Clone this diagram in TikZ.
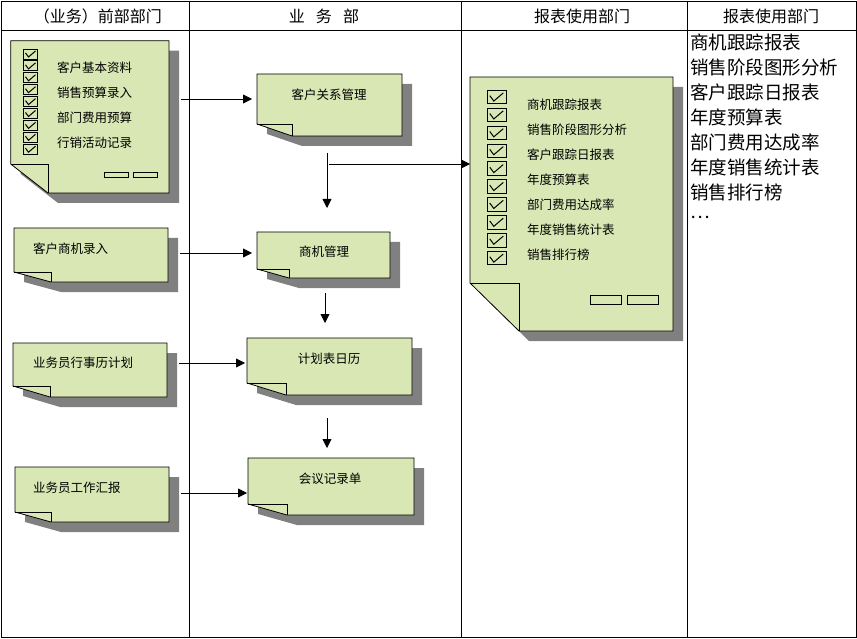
\documentclass[tikz,border=0pt]{standalone}
\usepackage{fontspec}
\newfontfamily\cjk{Noto Sans CJK SC}
\usetikzlibrary{arrows.meta,calc}
\definecolor{ink}{HTML}{000000}
\definecolor{paper}{HTML}{D8E7B4}
\definecolor{drop}{HTML}{808080}
\tikzset{
  grid/.style={draw=ink, line width=0.8pt},
  sheet/.style={draw=ink, fill=paper, line width=0.8pt},
  shade/.style={fill=drop},
  box/.style={inner sep=0pt, outer sep=0pt, draw=none},
  hd/.style={font=\cjk\fontsize{16}{18}\selectfont, inner sep=0pt, text=ink},
  lbl/.style={font=\cjk\fontsize{12.5}{14}\selectfont, inner sep=0pt, text=ink},
  lst/.style={font=\cjk\fontsize{18.5}{20}\selectfont, inner sep=0pt, text=ink, anchor=west},
  slot/.style={draw=ink, line width=0.8pt},
  ch/.style={-{Triangle[length=9pt, width=9pt]}, line width=0.8pt, draw=ink},
  tick/.pic={
    \filldraw[draw=ink, fill=paper, line width=0.8pt] (-7,-5) rectangle (7,5);
    \draw[ink, line width=1pt] (-5,-1) -- (-2,3) -- (5,-3);
  },
}
% #1 name, (#2,#3) top left, (#4,#5) bottom right, #6 fold width, #7 fold height
\newcommand{\paper}[7]{%
  \fill[shade] (#2+10,#3+10) -- (#4+10,#3+10) -- (#4+10,#5+10) -- (#2+#6+10,#5+10) -- (#2+10,#5-#7+10) -- cycle;
  \filldraw[sheet] (#2,#3) -- (#4,#3) -- (#4,#5) -- (#2+#6,#5) -- (#2,#5-#7) -- cycle;
  \draw[sheet, fill=none] (#2,#5-#7) -- (#2+#6,#5-#7) -- (#2+#6,#5);
  \node[box, minimum width={(#4-#2)*1pt}, minimum height={(#5-#3)*1pt}] (#1) at ({(#2+#4)/2},{(#3+#5)/2}) {};
}

\begin{document}
\begin{tikzpicture}[x=1pt, y=-1pt]
  \useasboundingbox (0,0) rectangle (857,639);
  % lanes
  \draw[grid] (1,1) rectangle (856,637);
  \draw[grid] (1,30) -- (856,30);
  \foreach \lx in {189.5,461,687}
    \draw[grid] (\lx,1) -- (\lx,637);
  \node[hd] (h1) at (98,16) {（业务）前部部门};
  \node[hd] (h2) at (324,16) {业\hspace{0.7em}务\hspace{0.7em}部};
  \node[hd] (h3) at (582,16) {报表使用部门};
  \node[hd] (h4) at (771,16) {报表使用部门};

  % front office sheets
  \paper{front}{10.7}{40.7}{169}{193}{37.3}{29}
  \foreach \k in {0,...,8}
    \pic at (30.5,{54+11.9*\k}) {tick};
  \foreach \t [count=\i from 0] in {客户基本资料,销售预算录入,部门费用预算,行销活动记录}
    \node[lbl, anchor=west] (front\i) at (57,{68+25*\i}) {\t};
  \draw[slot] (104,172) rectangle (128,177);
  \draw[slot] (133,172) rectangle (157,177);

  \paper{lead}{14}{228}{168}{282}{37}{10}
  \node[lbl, anchor=west] (leadt) at (33,249) {客户商机录入};
  \paper{sched}{13}{343}{167}{397}{37}{11}
  \node[lbl, anchor=west] (schedt) at (33,363) {业务员行事历计划};
  \paper{wrep}{15}{467}{169}{522}{36}{10}
  \node[lbl, anchor=west] (wrept) at (33,488) {业务员工作汇报};

  % business dept sheets
  \paper{crm}{257}{74}{402}{136}{35}{12}
  \node[lbl] (crmt) at (329,95) {客户关系管理};
  \paper{opp}{257}{232}{390}{278}{32}{9}
  \node[lbl] (oppt) at (324,252) {商机管理};
  \paper{plan}{247}{338}{412}{395}{39}{12}
  \node[lbl] (plant) at (329,359) {计划表日历};
  \paper{meet}{248}{458}{414}{515}{39}{11}
  \node[lbl] (meett) at (330,479) {会议记录单};

  % report sheet
  \paper{rep}{470}{77}{673}{331}{49}{48}
  \foreach \k in {0,...,9}
    \pic[scale=1.35] at (496.5,{97+17.9*\k}) {tick};
  \foreach \t [count=\i from 0] in {商机跟踪报表,销售阶段图形分析,客户跟踪日报表,年度预算表,部门费用达成率,年度销售统计表,销售排行榜}
    \node[lbl, anchor=west] (rep\i) at (527,{105+25*\i}) {\t};
  \draw[slot] (590,295) rectangle (621,304);
  \draw[slot] (627,295) rectangle (658,304);

  % report list
  \foreach \t [count=\i from 0] in {商机跟踪报表,销售阶段图形分析,客户跟踪日报表,年度预算表,部门费用达成率,年度销售统计表,销售排行榜,…}
    \node[lst] (use\i) at (690,{42+25*\i}) {\t};

  % flows
  \coordinate (spine) at (327,0);
  \coordinate (spine2) at (325,0);
  \coordinate (branch) at (327,164);
  \draw[ch, shorten <=12pt, shorten >=5pt] (front.east |- 0,99) -- (crm.west |- 0,99);
  \draw[ch, shorten <=12pt, shorten >=5pt] (lead.east |- 0,253) -- (opp.west |- 0,253);
  \draw[ch, shorten <=12pt, shorten >=2pt] (sched.east |- 0,363) -- (plan.west |- 0,363);
  \draw[ch, shorten <=12pt, shorten >=1pt] (wrep.east |- 0,493) -- (meet.west |- 0,493);
  \draw[ch, shorten <=17pt, shorten >=24pt] (spine |- crm.south) -- (spine |- opp.north);
  \draw[ch, shorten <=15pt, shorten >=15pt] (spine2 |- opp.south) -- (spine2 |- plan.north);
  \draw[ch, shorten <=23pt, shorten >=10pt] (spine |- plan.south) -- (spine |- meet.north);
  \draw[ch, shorten <=2pt] (branch) -- (rep.west |- branch);
\end{tikzpicture}
\end{document}
